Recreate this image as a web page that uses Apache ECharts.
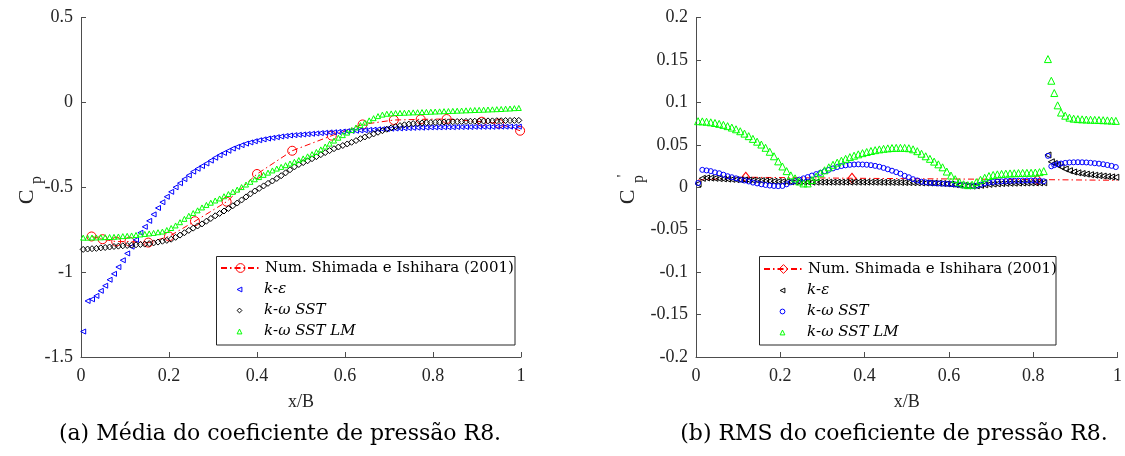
<!DOCTYPE html>
<html lang="pt">
<head>
    <meta charset="UTF-8">
    <script src="https://cdn.jsdelivr.net/npm/echarts@6/dist/echarts.min.js"></script>
    <style>
        html, body { margin: 0; padding: 0; background: #fff; }
    </style>
</head>
<body>

<div id="main" style="width: 1125px;height:456px;"></div>

<script type="text/javascript">

    // ---- (a) media do Cp ----
    var xMean = [0.005, 0.015, 0.025, 0.035, 0.045, 0.055, 0.065, 0.075, 0.085, 0.095,
        0.105, 0.115, 0.125, 0.135, 0.145, 0.155, 0.165, 0.175, 0.185, 0.195,
        0.205, 0.215, 0.225, 0.235, 0.245, 0.255, 0.265, 0.275, 0.285, 0.295,
        0.305, 0.315, 0.325, 0.335, 0.345, 0.355, 0.365, 0.375, 0.385, 0.395,
        0.405, 0.415, 0.425, 0.435, 0.445, 0.455, 0.465, 0.475, 0.485, 0.495,
        0.505, 0.515, 0.525, 0.535, 0.545, 0.555, 0.565, 0.575, 0.585, 0.595,
        0.605, 0.615, 0.625, 0.635, 0.645, 0.655, 0.665, 0.675, 0.685, 0.695,
        0.705, 0.715, 0.725, 0.735, 0.745, 0.755, 0.765, 0.775, 0.785, 0.795,
        0.805, 0.815, 0.825, 0.835, 0.845, 0.855, 0.865, 0.875, 0.885, 0.895,
        0.905, 0.915, 0.925, 0.935, 0.945, 0.955, 0.965, 0.975, 0.985, 0.995];

    var meanKe = [-1.35, -1.17, -1.16, -1.14, -1.11, -1.08, -1.045, -1.01, -0.97, -0.93,
        -0.89, -0.85, -0.81, -0.768, -0.733, -0.698, -0.66, -0.622, -0.588, -0.556,
        -0.527, -0.5, -0.476, -0.452, -0.43, -0.408, -0.391, -0.375, -0.36, -0.343,
        -0.326, -0.311, -0.298, -0.285, -0.272, -0.262, -0.252, -0.243, -0.236, -0.229,
        -0.223, -0.218, -0.213, -0.209, -0.205, -0.201, -0.198, -0.195, -0.193, -0.191,
        -0.189, -0.187, -0.185, -0.183, -0.181, -0.179, -0.177, -0.176, -0.174, -0.172,
        -0.17, -0.168, -0.167, -0.165, -0.164, -0.162, -0.161, -0.159, -0.158, -0.157,
        -0.155, -0.154, -0.153, -0.152, -0.151, -0.15, -0.149, -0.149, -0.148, -0.147,
        -0.147, -0.147, -0.146, -0.146, -0.146, -0.145, -0.145, -0.145, -0.145, -0.144,
        -0.144, -0.144, -0.144, -0.144, -0.143, -0.143, -0.143, -0.143, -0.143, -0.143];

    var meanSst = [-0.866, -0.864, -0.862, -0.86, -0.857, -0.855, -0.852, -0.849, -0.847, -0.845,
        -0.843, -0.841, -0.839, -0.837, -0.835, -0.832, -0.828, -0.823, -0.818, -0.813,
        -0.806, -0.795, -0.782, -0.768, -0.754, -0.741, -0.728, -0.716, -0.7, -0.684,
        -0.668, -0.654, -0.64, -0.625, -0.609, -0.593, -0.575, -0.557, -0.539, -0.522,
        -0.507, -0.492, -0.477, -0.463, -0.448, -0.432, -0.415, -0.397, -0.38, -0.366,
        -0.355, -0.344, -0.332, -0.32, -0.308, -0.296, -0.284, -0.273, -0.263, -0.254,
        -0.245, -0.235, -0.225, -0.214, -0.204, -0.195, -0.186, -0.176, -0.167, -0.158,
        -0.15, -0.143, -0.137, -0.132, -0.128, -0.125, -0.123, -0.121, -0.12, -0.119,
        -0.118, -0.117, -0.116, -0.115, -0.114, -0.113, -0.112, -0.112, -0.111, -0.111,
        -0.11, -0.11, -0.109, -0.109, -0.108, -0.108, -0.107, -0.107, -0.106, -0.106];

    var meanLm = [-0.797, -0.797, -0.796, -0.796, -0.795, -0.794, -0.793, -0.792, -0.79, -0.788,
        -0.786, -0.784, -0.781, -0.778, -0.775, -0.772, -0.769, -0.765, -0.761, -0.752,
        -0.74, -0.725, -0.706, -0.686, -0.668, -0.652, -0.636, -0.619, -0.604, -0.591,
        -0.578, -0.566, -0.553, -0.54, -0.527, -0.514, -0.499, -0.484, -0.468, -0.453,
        -0.44, -0.427, -0.414, -0.401, -0.39, -0.38, -0.37, -0.36, -0.35, -0.34,
        -0.33, -0.318, -0.305, -0.292, -0.277, -0.26, -0.243, -0.225, -0.208, -0.193,
        -0.178, -0.163, -0.148, -0.134, -0.12, -0.106, -0.093, -0.081, -0.072, -0.067,
        -0.065, -0.063, -0.062, -0.061, -0.06, -0.059, -0.058, -0.057, -0.056, -0.055,
        -0.054, -0.053, -0.052, -0.051, -0.05, -0.049, -0.048, -0.047, -0.046, -0.045,
        -0.044, -0.043, -0.042, -0.041, -0.04, -0.039, -0.037, -0.036, -0.034, -0.033];

    // Shimada e Ishihara (2001)
    var meanRefX = [0.024, 0.049, 0.08, 0.11, 0.153, 0.2, 0.259, 0.331, 0.4, 0.48, 0.57, 0.64, 0.711, 0.772, 0.831, 0.911, 0.95, 0.998];
    var meanRefY = [-0.79, -0.806, -0.82, -0.82, -0.826, -0.79, -0.7, -0.585, -0.422, -0.285, -0.196, -0.13, -0.104, -0.1, -0.098, -0.114, -0.125, -0.167];

    // ---- (b) RMS do Cp ----
    var xRms1 = [0.005, 0.015, 0.025, 0.035, 0.045, 0.055, 0.065, 0.075, 0.085, 0.095,
        0.105, 0.115, 0.125, 0.135, 0.145, 0.155, 0.165, 0.175, 0.185, 0.195,
        0.205, 0.215, 0.225, 0.235, 0.245, 0.255, 0.265, 0.275, 0.285, 0.295,
        0.305, 0.315, 0.325, 0.335, 0.345, 0.355, 0.365, 0.375, 0.385, 0.395,
        0.405, 0.415, 0.425, 0.435, 0.445, 0.455, 0.465, 0.475, 0.485, 0.495,
        0.505, 0.515, 0.525, 0.535, 0.545, 0.555, 0.565, 0.575, 0.585, 0.595,
        0.605, 0.615, 0.625, 0.635, 0.645, 0.655, 0.665, 0.675, 0.685, 0.695,
        0.705, 0.715, 0.725, 0.735, 0.745, 0.755, 0.765, 0.775, 0.785, 0.795,
        0.805, 0.815, 0.825];
    var xRms2 = [0.835, 0.843, 0.85, 0.858, 0.866, 0.876, 0.886, 0.896, 0.906, 0.916,
        0.926, 0.936, 0.946, 0.956, 0.966, 0.976, 0.986, 0.996];

    var rmsKe1 = [0.004, 0.0105, 0.011, 0.0108, 0.0105, 0.0102, 0.0099, 0.0096, 0.0093, 0.009,
        0.0088, 0.0086, 0.0084, 0.0082, 0.008, 0.0078, 0.0076, 0.0073, 0.007, 0.0068,
        0.0066, 0.0065, 0.0064, 0.0063, 0.0062, 0.0061, 0.006, 0.006, 0.006, 0.006,
        0.006, 0.006, 0.006, 0.006, 0.006, 0.006, 0.006, 0.006, 0.006, 0.006,
        0.006, 0.006, 0.0059, 0.0059, 0.0058, 0.0058, 0.0057, 0.0057, 0.0056, 0.0056,
        0.0055, 0.0054, 0.0053, 0.0052, 0.0051, 0.005, 0.0049, 0.0047, 0.0044, 0.0041,
        0.0036, 0.0031, 0.0025, 0.002, 0.0015, 0.0013, 0.0017, 0.0023, 0.0029, 0.0034,
        0.0038, 0.0041, 0.0044, 0.0046, 0.0047, 0.0048, 0.0049, 0.005, 0.005, 0.0051,
        0.0051, 0.0052, 0.0053];
    var rmsKe2 = [0.038, 0.03, 0.028, 0.0265, 0.024, 0.0215, 0.0195, 0.018, 0.017, 0.0162,
        0.0155, 0.0148, 0.0142, 0.0137, 0.0132, 0.0127, 0.0122, 0.0118];

    var rmsSst1 = [0.005, 0.0205, 0.0198, 0.019, 0.0175, 0.0165, 0.0148, 0.013, 0.0118, 0.0105,
        0.009, 0.008, 0.0068, 0.0055, 0.0045, 0.0035, 0.0027, 0.002, 0.0015, 0.0013,
        0.0015, 0.0035, 0.0058, 0.0075, 0.009, 0.0105, 0.012, 0.0138, 0.0155, 0.017,
        0.0188, 0.0205, 0.0222, 0.0238, 0.025, 0.0258, 0.0264, 0.0268, 0.027, 0.0268,
        0.0265, 0.026, 0.0252, 0.0242, 0.0228, 0.0212, 0.0195, 0.0178, 0.016, 0.0135,
        0.0118, 0.0095, 0.008, 0.0065, 0.0058, 0.0052, 0.0048, 0.0045, 0.0042, 0.004,
        0.0037, 0.0033, 0.0028, 0.0022, 0.0015, 0.0012, 0.0018, 0.003, 0.0045, 0.0055,
        0.0062, 0.0067, 0.007, 0.0073, 0.0075, 0.0077, 0.0078, 0.0079, 0.008, 0.008,
        0.0079, 0.0076, 0.007];
    var rmsSst2 = [0.037, 0.0247, 0.026, 0.0272, 0.028, 0.0287, 0.0292, 0.0294, 0.0295, 0.0294,
        0.0292, 0.0288, 0.0283, 0.0278, 0.0271, 0.0262, 0.0252, 0.0238];

    var rmsLm1 = [0.0778, 0.0776, 0.0772, 0.0765, 0.0757, 0.0747, 0.0735, 0.072, 0.0703, 0.0683,
        0.066, 0.0632, 0.0602, 0.057, 0.0537, 0.0503, 0.0465, 0.0418, 0.0365, 0.0305,
        0.0245, 0.019, 0.014, 0.0105, 0.0068, 0.0045, 0.0045, 0.0085, 0.0125, 0.0165,
        0.02, 0.0235, 0.0265, 0.029, 0.0313, 0.0335, 0.0355, 0.0372, 0.0388, 0.0402,
        0.0415, 0.0427, 0.0437, 0.0446, 0.0453, 0.0458, 0.0462, 0.0464, 0.0465, 0.0464,
        0.046, 0.0447, 0.0425, 0.0395, 0.0365, 0.0335, 0.0302, 0.027, 0.0235, 0.0185,
        0.0138, 0.0095, 0.006, 0.0035, 0.0025, 0.003, 0.006, 0.0088, 0.0112, 0.0132,
        0.0145, 0.0152, 0.0157, 0.016, 0.0163, 0.0165, 0.0167, 0.0169, 0.017, 0.0171,
        0.0173, 0.0178, 0.019];
    var rmsLm2 = [0.151, 0.1255, 0.111, 0.0965, 0.088, 0.0843, 0.082, 0.0808, 0.0803, 0.08,
        0.0798, 0.0796, 0.0794, 0.0792, 0.079, 0.0788, 0.0785, 0.0782];

    var rmsRefX = [0.005, 0.118, 0.37, 0.81, 1.0];
    var rmsRefY = [0.0085, 0.0118, 0.0106, 0.009, 0.0082];

    var legendNames = {
        a0: 'Num. Shimada e Ishihara (2001)',
        a1: '{i|k}-{i|ε}',
        a2: '{i|k}-{i|ω SST}',
        a3: '{i|k}-{i|ω SST LM}'
    };
    legendNames.b0 = legendNames.a0;
    legendNames.b1 = legendNames.a1;
    legendNames.b2 = legendNames.a2;
    legendNames.b3 = legendNames.a3;

    function pairs(xs, ys) {
        return xs.map(function (x, i) { return [x, ys[i]]; });
    }

    var serifTick = '"Liberation Serif", "Times New Roman", serif';
    var serifTex = '"DejaVu Serif", serif';
    var clear = 'rgba(0,0,0,0)';

    function markerSeries(name, axis, data, symbol, size, rotate, color) {
        return {
            name: name, type: 'line', xAxisIndex: axis, yAxisIndex: axis,
            data: data, symbol: symbol, symbolSize: size, symbolRotate: rotate,
            showAllSymbol: true, silent: true, color: color,
            itemStyle: {color: clear, borderColor: color, borderWidth: 1},
            lineStyle: {opacity: 0, width: 0}
        };
    }

    function legendText() {
        return {
            fontFamily: serifTex, fontSize: 15, color: '#000', lineHeight: 17,
            rich: {
                i: {fontFamily: serifTex, fontSize: 15, fontStyle: 'italic', color: '#000', lineHeight: 17}
            }
        };
    }

    function legendBox(names, left, top, h, gap) {
        return {
            data: names, orient: 'vertical', left: left, top: top, padding: 0,
            itemWidth: 39, itemHeight: h, itemGap: gap, selectedMode: false,
            itemStyle: {color: clear, borderWidth: 1},
            formatter: function (n) { return legendNames[n]; }, textStyle: legendText()
        };
    }

    function xAx(idx) {
        return {
            type: 'value', gridIndex: idx, min: 0, max: 1, interval: 0.2,
            name: 'x/B', nameLocation: 'middle', nameGap: 36,
            nameTextStyle: {fontFamily: serifTick, fontSize: 18, color: '#262626'},
            axisLine: {show: true, onZero: false, lineStyle: {color: '#4d4d4d', width: 1}},
            axisTick: {show: true, inside: true, length: 5, lineStyle: {color: '#4d4d4d'}},
            axisLabel: {fontFamily: serifTick, fontSize: 18, color: '#262626', margin: 10},
            splitLine: {show: false}
        };
    }

    function yAx(idx, min, max, step) {
        return {
            type: 'value', gridIndex: idx, min: min, max: max, interval: step,
            axisLine: {show: true, onZero: false, lineStyle: {color: '#4d4d4d', width: 1}},
            axisTick: {show: true, inside: true, length: 5, lineStyle: {color: '#4d4d4d'}},
            axisLabel: {fontFamily: serifTick, fontSize: 18, color: '#262626', margin: 8},
            splitLine: {show: false}
        };
    }

    var myChart = echarts.init(document.getElementById('main'));

    var option = {
        animation: false,
        backgroundColor: '#fff',
        grid: [
            {left: 81, top: 17.5, width: 440, height: 339.5},
            {left: 696, top: 17.5, width: 422, height: 339.5}
        ],
        xAxis: [xAx(0), xAx(1)],
        yAxis: [yAx(0, -1.5, 0.5, 0.5), yAx(1, -0.2, 0.2, 0.05)],
        legend: [
            legendBox(['a0'], 220, 259.5, 11, 4),
            legendBox(['a1', 'a2', 'a3'], 220, 281, 6, 4),
            legendBox(['b0'], 763, 260.5, 11, 4),
            legendBox(['b1', 'b2', 'b3'], 763, 282, 6, 4)
        ],
        series: [
            {
                name: 'a0', type: 'line', xAxisIndex: 0, yAxisIndex: 0,
                data: pairs(meanRefX, meanRefY), symbol: 'circle', symbolSize: 9,
                showAllSymbol: true, silent: true, color: '#ff0000',
                itemStyle: {color: clear, borderColor: '#ff0000', borderWidth: 1},
                lineStyle: {color: '#ff0000', width: 1, type: [6, 3, 1.5, 3]}
            },
            markerSeries('a1', 0, pairs(xMean, meanKe), 'triangle', 5, 90, '#0000ff'),
            markerSeries('a2', 0, pairs(xMean, meanSst), 'diamond', 6, 0, '#000000'),
            markerSeries('a3', 0, pairs(xMean, meanLm), 'triangle', 5, 0, '#00ff00'),
            {
                name: 'b0', type: 'line', xAxisIndex: 1, yAxisIndex: 1,
                data: pairs(rmsRefX, rmsRefY).map(function (p, i) {
                    return (i === 0 || i === rmsRefX.length - 1) ? {value: p, symbol: 'none'} : p;
                }),
                symbol: 'diamond', symbolSize: [8, 10],
                showAllSymbol: true, silent: true, color: '#ff0000',
                itemStyle: {color: clear, borderColor: '#ff0000', borderWidth: 1},
                lineStyle: {color: '#ff0000', width: 1, type: [6, 3, 1.5, 3]}
            },
            markerSeries('b1', 1, pairs(xRms1, rmsKe1).concat(pairs(xRms2, rmsKe2)), 'triangle', 6, 90, '#000000'),
            markerSeries('b2', 1, pairs(xRms1, rmsSst1).concat(pairs(xRms2, rmsSst2)), 'circle', 5, 0, '#0000ff'),
            markerSeries('b3', 1, pairs(xRms1, rmsLm1).concat(pairs(xRms2, rmsLm2)), 'triangle', 7, 0, '#00ff00')
        ],
        graphic: [
            // caixas das legendas
            {type: 'rect', shape: {x: 216.5, y: 256.5, width: 298.5, height: 88.5},
                style: {fill: 'none', stroke: '#262626', lineWidth: 1}, z: 1},
            {type: 'rect', shape: {x: 759.5, y: 256.5, width: 296.5, height: 88.5},
                style: {fill: 'none', stroke: '#262626', lineWidth: 1}, z: 1},
            // rotulos do eixo y
            {type: 'text', x: 27, y: 197, rotation: Math.PI / 2,
                style: {text: 'C', font: '22px ' + serifTick, fill: '#262626', textAlign: 'center', textVerticalAlign: 'middle', align: 'center', verticalAlign: 'middle'}},
            {type: 'text', x: 37, y: 180, rotation: Math.PI / 2,
                style: {text: 'p', font: '16px ' + serifTick, fill: '#262626', textAlign: 'center', textVerticalAlign: 'middle', align: 'center', verticalAlign: 'middle'}},
            {type: 'text', x: 628, y: 197, rotation: Math.PI / 2,
                style: {text: 'C', font: '22px ' + serifTick, fill: '#262626', textAlign: 'center', textVerticalAlign: 'middle', align: 'center', verticalAlign: 'middle'}},
            {type: 'text', x: 639, y: 179, rotation: Math.PI / 2,
                style: {text: 'p', font: '16px ' + serifTick, fill: '#262626', textAlign: 'center', textVerticalAlign: 'middle', align: 'center', verticalAlign: 'middle'}},
            {type: 'text', x: 623, y: 176, rotation: Math.PI / 2,
                style: {text: '\'', font: '14px ' + serifTick, fill: '#262626', textAlign: 'center', textVerticalAlign: 'middle', align: 'center', verticalAlign: 'middle'}},
            // legendas das figuras
            {type: 'text', x: 280, y: 434,
                style: {text: '(a) Média do coeficiente de pressão R8.', font: '22px ' + serifTex, fill: '#000', textAlign: 'center', textVerticalAlign: 'middle', align: 'center', verticalAlign: 'middle'}},
            {type: 'text', x: 894, y: 434,
                style: {text: '(b) RMS do coeficiente de pressão R8.', font: '22px ' + serifTex, fill: '#000', textAlign: 'center', textVerticalAlign: 'middle', align: 'center', verticalAlign: 'middle'}}
        ]
    };

    myChart.setOption(option);
</script>
</body>
</html>
